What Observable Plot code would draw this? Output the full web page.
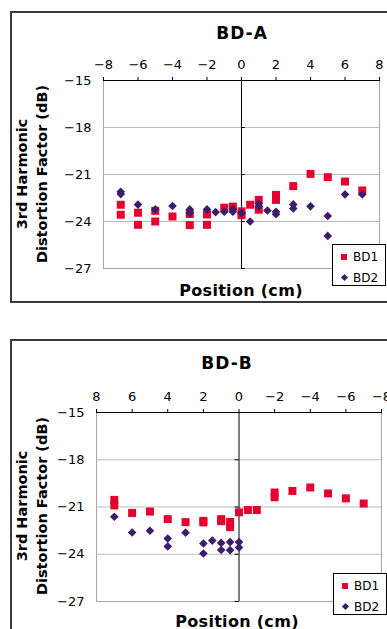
<!DOCTYPE html>
<html><head><meta charset="utf-8">
<script src="https://cdn.jsdelivr.net/npm/d3@7"></script>
<script src="https://cdn.jsdelivr.net/npm/@observablehq/plot@0.6"></script>
<style>
html,body{margin:0;padding:0;background:#fff;}
body{width:387px;height:629px;overflow:hidden;position:relative;font-family:"DejaVu Sans",sans-serif;color:#000;}
.panel{position:absolute;left:10px;width:400px;border:2px solid #3a3a3a;box-sizing:border-box;}
.abs{position:absolute;}
.plot{position:absolute;left:0;}
.title{position:absolute;font-weight:bold;font-size:17px;transform:translate(-50%,-50%);white-space:nowrap;letter-spacing:1px;}
.xlabel{position:absolute;font-weight:bold;font-size:16px;transform:translate(-50%,-50%);white-space:nowrap;letter-spacing:0.3px;}
.ylabel{position:absolute;font-weight:bold;font-size:14.5px;transform:translate(-50%,-50%) rotate(-90deg);white-space:nowrap;text-align:center;line-height:20px;}
.legend{position:absolute;border:1px solid #000;background:#fff;font-size:12px;box-sizing:border-box;width:54px;height:42px;}
.legend .t{position:absolute;left:20px;line-height:14px;}
.sq{position:absolute;width:6px;height:6px;}
.dm{position:absolute;width:5px;height:5px;transform:rotate(45deg);}
</style>
</head><body>
<div class="panel" style="top:11px;height:292px;"></div>
<div class="panel" style="top:339px;height:300px;"></div>
<div id="A" class="plot" style="top:0px;"></div>
<div id="B" class="plot" style="top:330px;"></div>
<div class="title" style="left:242px;top:33px;">BD-A</div>
<div class="title" style="left:227px;top:363px;">BD-B</div>
<div class="xlabel" style="left:241px;top:290px;">Position (cm)</div>
<div class="xlabel" style="left:237px;top:621px;">Position (cm)</div>
<div class="ylabel" style="left:32px;top:174px;">3rd Harmonic<br>Distortion Factor (dB)</div>
<div class="ylabel" style="left:32px;top:506px;">3rd Harmonic<br>Distortion Factor (dB)</div>
<div id="legA" class="legend" style="left:332px;top:244px;"></div>
<div id="legB" class="legend" style="left:333px;top:573px;"></div>
<script>
// ---- data ----
const seriesNames = ["BD1", "BD2"];
const xTicks = [-8, -6, -4, -2, 0, 2, 4, 6, 8];
const yTicks = [-15, -18, -21, -24, -27];
const gridLines = [-18, -21, -24];

const posA_BD1 = [-7,-7,-6,-6,-5,-5,-4,-3,-3,-2,-2,-1,-0.5,0,0,0.5,1,1,2,2,3,4,5,6,7];
const valA_BD1 = [-22.93,-23.57,-23.44,-24.21,-23.32,-24.0,-23.68,-23.52,-24.23,-23.55,-24.21,-23.12,-23.05,-23.35,-23.6,-22.93,-22.62,-23.25,-22.3,-22.62,-21.74,-20.96,-21.17,-21.45,-22.02];
const posA_BD2 = [-7,-7,-6,-5,-4,-3,-3,-2,-1.5,-1,-0.5,-0.5,0,0.5,1,1,1.5,2,2,3,3,4,5,5,6,7];
const valA_BD2 = [-22.1,-22.25,-22.92,-23.23,-23.01,-23.23,-23.45,-23.23,-23.4,-23.38,-23.23,-23.38,-23.45,-24.0,-22.87,-23.03,-23.3,-23.38,-23.53,-22.91,-23.17,-23.03,-23.65,-24.92,-22.27,-22.27];

const posB_BD1 = [7,7,6,5,4,3,2,2,1,1,0.5,0.5,0,-0.5,-1,-2,-2,-3,-4,-5,-6,-7];
const valB_BD1 = [-20.55,-20.9,-21.38,-21.29,-21.77,-21.96,-21.88,-21.98,-21.77,-21.9,-21.95,-22.28,-21.34,-21.19,-21.19,-20.08,-20.38,-19.98,-19.76,-20.14,-20.45,-20.78];
const posB_BD2 = [7,6,5,4,4,3,2,2,1.5,1,1,0.5,0.5,0,0];
const valB_BD2 = [-21.62,-22.62,-22.51,-23.0,-23.5,-22.63,-23.32,-23.95,-23.13,-23.28,-23.73,-23.23,-23.74,-23.23,-23.57];

const red = "#e6002d";
const purple = "#3c1d6b";

const rows = (xs, ys) => xs.map((x, i) => ({x, y: ys[i]}));
const minus = d => (d < 0 ? "\u2212" + Math.abs(d) : String(d));

function chart({bd1, bd2, reverse, marginLeft, marginRight, marginTop, marginBottom, height}) {
  return Plot.plot({
    width: 387, height,
    marginLeft, marginRight, marginTop, marginBottom,
    x: {domain: reverse ? [8, -8] : [-8, 8]},
    y: {domain: [-27, -15]},
    style: {fontFamily: "DejaVu Sans", fontSize: "13px", background: "transparent", overflow: "visible", color: "#000"},
    marks: [
      Plot.frame({stroke: "#a6a6a6"}),
      Plot.ruleY(gridLines, {stroke: "#bcbcbc", strokeOpacity: 1}),
      Plot.ruleY([-15], {stroke: "#000"}),
      Plot.ruleX([0], {stroke: "#000"}),
      Plot.ruleY(yTicks, {y: d => d, x1: 0, x2: 0.22, stroke: "#000"}),
      Plot.axisX({anchor: "top", ticks: xTicks, tickSize: 4, tickPadding: 8, label: null, tickFormat: minus, fontSize: 13}),
      Plot.axisY({anchor: "left", ticks: yTicks, tickSize: 0, tickPadding: 12, label: null, tickFormat: minus, fontSize: 13}),
      Plot.dot(bd1, {x: "x", y: "y", symbol: "square", r: 4.5, fill: red, stroke: null}),
      Plot.dot(bd2, {x: "x", y: "y", symbol: "diamond2", r: 3.9, fill: purple, stroke: null})
    ]
  });
}

document.getElementById("A").append(chart({
  bd1: rows(posA_BD1, valA_BD1), bd2: rows(posA_BD2, valA_BD2), reverse: false,
  marginLeft: 103, marginRight: 8, marginTop: 80, marginBottom: 32, height: 300
}));
document.getElementById("B").append(chart({
  bd1: rows(posB_BD1, valB_BD1), bd2: rows(posB_BD2, valB_BD2), reverse: true,
  marginLeft: 96, marginRight: 6, marginTop: 82, marginBottom: 28, height: 299
}));

function legend(el) {
  el.innerHTML =
    `<div class="sq" style="left:8px;top:9px;background:${red}"></div>` +
    `<div class="t" style="top:5px;">${seriesNames[0]}</div>` +
    `<div class="dm" style="left:9px;top:30px;background:${purple}"></div>` +
    `<div class="t" style="top:26px;">${seriesNames[1]}</div>`;
}
legend(document.getElementById("legA"));
legend(document.getElementById("legB"));
</script>
</body></html>
